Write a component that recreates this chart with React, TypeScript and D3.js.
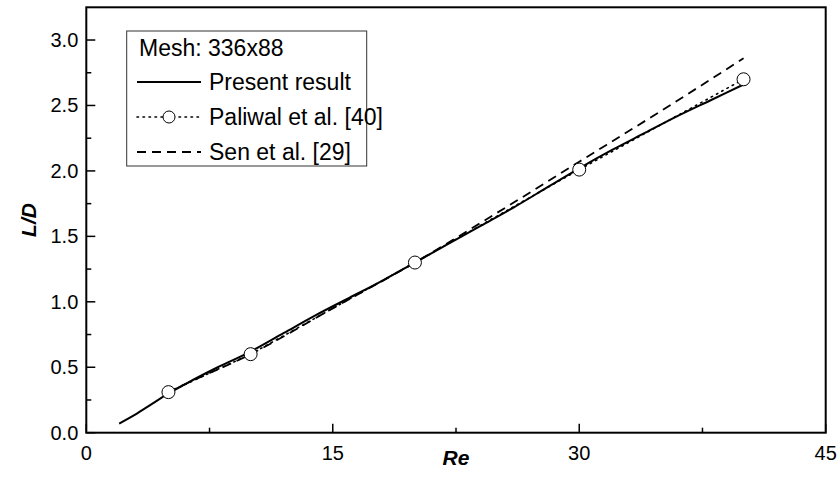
import React from "react";
import * as d3 from "d3";

// Present result (solid)
const presentRe = [2, 3, 4, 5, 6, 8, 10, 12, 14, 16, 18, 20, 22, 24, 26, 28, 30, 32, 34, 36, 38, 40];
const presentLD = [0.07, 0.14, 0.22, 0.3, 0.37, 0.5, 0.62, 0.76, 0.9, 1.03, 1.16, 1.3, 1.44, 1.58, 1.72, 1.87, 2.02, 2.16, 2.29, 2.42, 2.54, 2.66];
// Paliwal et al. [40] (dotted + circles)
const paliwalRe = [5, 10, 20, 30, 40];
const paliwalLD = [0.31, 0.6, 1.3, 2.01, 2.7];
// Sen et al. [29] (dashed)
const senRe = [5, 6, 10, 15, 20, 25, 30, 35, 40];
const senLD = [0.31, 0.37, 0.6, 0.95, 1.3, 1.68, 2.07, 2.46, 2.86];

const xMajor = [0, 15, 30, 45];
const xMinor = [7.5, 22.5, 37.5];
const yMajor = [0, 0.5, 1, 1.5, 2, 2.5, 3];
const yMinor = [0.25, 0.75, 1.25, 1.75, 2.25, 2.75];

const legendTitle = "Mesh: 336x88";
const legendLabels = ["Present result", "Paliwal et al. [40]", "Sen et al. [29]"];

const FONT = "Arial, 'Liberation Sans', Helvetica, sans-serif";

export default function App() {
  const left = 86.3, right = 825.7, top = 7.3, bottom = 432.7;
  const x = d3.scaleLinear().domain([0, 45]).range([left, right]);
  const y = d3.scaleLinear().domain([0, 3.25]).range([bottom, top]);

  const line = d3
    .line<[number, number]>()
    .x((d) => x(d[0]))
    .y((d) => y(d[1]));
  const smooth = d3
    .line<[number, number]>()
    .x((d) => x(d[0]))
    .y((d) => y(d[1]))
    .curve(d3.curveMonotoneX);

  const present = presentRe.map((r, i) => [r, presentLD[i]] as [number, number]);
  const paliwal = paliwalRe.map((r, i) => [r, paliwalLD[i]] as [number, number]);
  const sen = senRe.map((r, i) => [r, senLD[i]] as [number, number]);

  const tickFont = 20;
  const legFont = 23;
  const lx = 126.7, ly = 31, lw = 240, lh = 135;
  const rowY = [48, 82, 117, 152];

  return (
    <svg
      width={837}
      height={477}
      style={{ position: "absolute", left: 0, top: 0, background: "#fff" }}
      fontFamily={FONT}
    >
      <rect x={0} y={0} width={837} height={477} fill="#fff" />
      {/* data lines */}
      <path d={line(paliwal) || ""} fill="none" stroke="#000" strokeWidth={1.6} strokeDasharray="1.5,4.5" strokeLinecap="round" />
      <path d={smooth(sen) || ""} fill="none" stroke="#000" strokeWidth={1.8} strokeDasharray="9,6" />
      <path d={smooth(present) || ""} fill="none" stroke="#000" strokeWidth={2} />
      {paliwal.map((d, i) => (
        <circle key={i} cx={x(d[0])} cy={y(d[1])} r={6.5} fill="#fff" stroke="#000" strokeWidth={1} />
      ))}

      {/* frame */}
      <rect x={left} y={top} width={right - left} height={bottom - top} fill="none" stroke="#000" strokeWidth={2} />

      {/* x ticks */}
      {xMajor.map((t) => (
        <g key={"xM" + t}>
          <line x1={x(t)} x2={x(t)} y1={bottom} y2={bottom - 9} stroke="#000" strokeWidth={1.5} />
          <text x={x(t)} y={bottom + 27} fontSize={tickFont} textAnchor="middle">{t}</text>
        </g>
      ))}
      {xMinor.map((t) => (
        <line key={"xm" + t} x1={x(t)} x2={x(t)} y1={bottom} y2={bottom - 5} stroke="#000" strokeWidth={1.5} />
      ))}
      {/* y ticks */}
      {yMajor.map((t) => (
        <g key={"yM" + t}>
          <line x1={left} x2={left + 9} y1={y(t)} y2={y(t)} stroke="#000" strokeWidth={1.5} />
          <text x={left - 8} y={y(t) + 7} fontSize={tickFont} textAnchor="end">{t.toFixed(1)}</text>
        </g>
      ))}
      {yMinor.map((t) => (
        <line key={"ym" + t} x1={left} x2={left + 5} y1={y(t)} y2={y(t)} stroke="#000" strokeWidth={1.5} />
      ))}

      {/* axis titles */}
      <text x={x(22.5)} y={465} fontSize={21} fontWeight="bold" fontStyle="italic" textAnchor="middle">Re</text>
      <text
        transform={`translate(36,${(top + bottom) / 2}) rotate(-90)`}
        fontSize={21}
        fontWeight="bold"
        fontStyle="italic"
        textAnchor="middle"
      >
        L/D
      </text>

      {/* legend */}
      <rect x={lx} y={ly} width={lw} height={lh} fill="#fff" stroke="#333" strokeWidth={1} />
      <text x={139} y={rowY[0] + 8} fontSize={legFont}>{legendTitle}</text>
      <line x1={137} x2={201} y1={rowY[1]} y2={rowY[1]} stroke="#000" strokeWidth={2} />
      <text x={209} y={rowY[1] + 8} fontSize={legFont}>{legendLabels[0]}</text>
      <line x1={137} x2={201} y1={rowY[2]} y2={rowY[2]} stroke="#000" strokeWidth={1.6} strokeDasharray="1.5,4.5" strokeLinecap="round" />
      <circle cx={169} cy={rowY[2]} r={6} fill="#fff" stroke="#000" strokeWidth={1} />
      <text x={209} y={rowY[2] + 8} fontSize={legFont}>{legendLabels[1]}</text>
      <line x1={137} x2={201} y1={rowY[3]} y2={rowY[3]} stroke="#000" strokeWidth={1.8} strokeDasharray="9,6" />
      <text x={209} y={rowY[3] + 8} fontSize={legFont}>{legendLabels[2]}</text>
    </svg>
  );
}
